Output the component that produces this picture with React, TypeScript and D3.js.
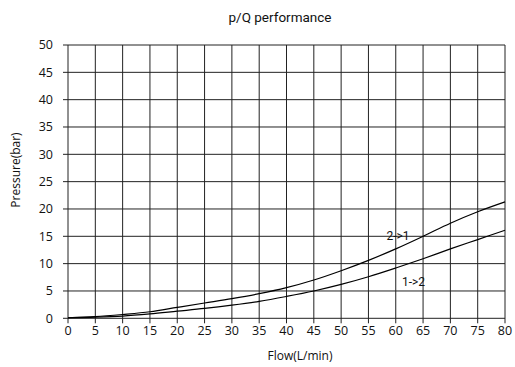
import React from "react";
import * as d3 from "d3";

const flows = [0, 5, 10, 15, 20, 25, 30, 35, 40, 45, 50, 55, 60, 65, 70, 75, 80];
const p21 = [0.1, 0.3, 0.7, 1.2, 2.0, 2.8, 3.6, 4.5, 5.6, 7.0, 8.7, 10.6, 12.7, 15.0, 17.4, 19.5, 21.3];
const p12 = [0.1, 0.2, 0.4, 0.8, 1.3, 1.8, 2.4, 3.1, 4.0, 5.0, 6.2, 7.6, 9.2, 10.9, 12.7, 14.4, 16.1];
const xTicks = [0, 5, 10, 15, 20, 25, 30, 35, 40, 45, 50, 55, 60, 65, 70, 75, 80];
const yTicks = [0, 5, 10, 15, 20, 25, 30, 35, 40, 45, 50];
const title = "p/Q performance";
const xLabel = "Flow(L/min)";
const yLabel = "Pressure(bar)";

export default function App() {
  const W = 515, H = 367;
  const x = d3.scaleLinear().domain([0, 80]).range([68, 505]);
  const y = d3.scaleLinear().domain([0, 50]).range([318.3, 45]);
  const line = d3
    .line<number>()
    .x((_, i) => x(flows[i]))
    .y((d) => y(d))
    .curve(d3.curveCatmullRom.alpha(0.5));
  const font = "'Open Sans', sans-serif";
  return (
    <svg width={W} height={H} style={{ position: "absolute", left: 0, top: 0, background: "#fff" }} fontFamily={font}>
      <text x={280} y={22} textAnchor="middle" fontSize={13.5} fontFamily="Roboto, sans-serif" fill="#111">{title}</text>
      {yTicks.map((t) => (
        <g key={"y" + t}>
          <line x1={x(0) - 5} x2={x(80)} y1={y(t)} y2={y(t)} stroke="#222" strokeWidth={1} />
          <text x={53} y={y(t)} dy="0.35em" textAnchor="end" fontSize={12.5} fill="#111">{t}</text>
        </g>
      ))}
      {xTicks.map((t) => (
        <g key={"x" + t}>
          <line x1={x(t)} x2={x(t)} y1={y(50)} y2={y(0) + 5} stroke="#222" strokeWidth={1} />
          <text x={x(t)} y={335} textAnchor="middle" fontSize={12.5} fill="#111">{t}</text>
        </g>
      ))}
      <path d={line(p21) || ""} fill="none" stroke="#000" strokeWidth={1.2} />
      <path d={line(p12) || ""} fill="none" stroke="#000" strokeWidth={1.2} />
      <text x={398} y={236} dy="0.35em" textAnchor="middle" fontSize={12} fontFamily="Roboto, sans-serif" fill="#111">2-&gt;1</text>
      <text x={413.5} y={282} dy="0.35em" textAnchor="middle" fontSize={12} fontFamily="Roboto, sans-serif" fill="#111">1-&gt;2</text>
      <text x={300} y={356} dy="0.35em" textAnchor="middle" fontSize={12} fill="#111">{xLabel}</text>
      <text transform={`translate(16,170) rotate(-90)`} dy="0.35em" textAnchor="middle" fontSize={12} fill="#111">{yLabel}</text>
    </svg>
  );
}
